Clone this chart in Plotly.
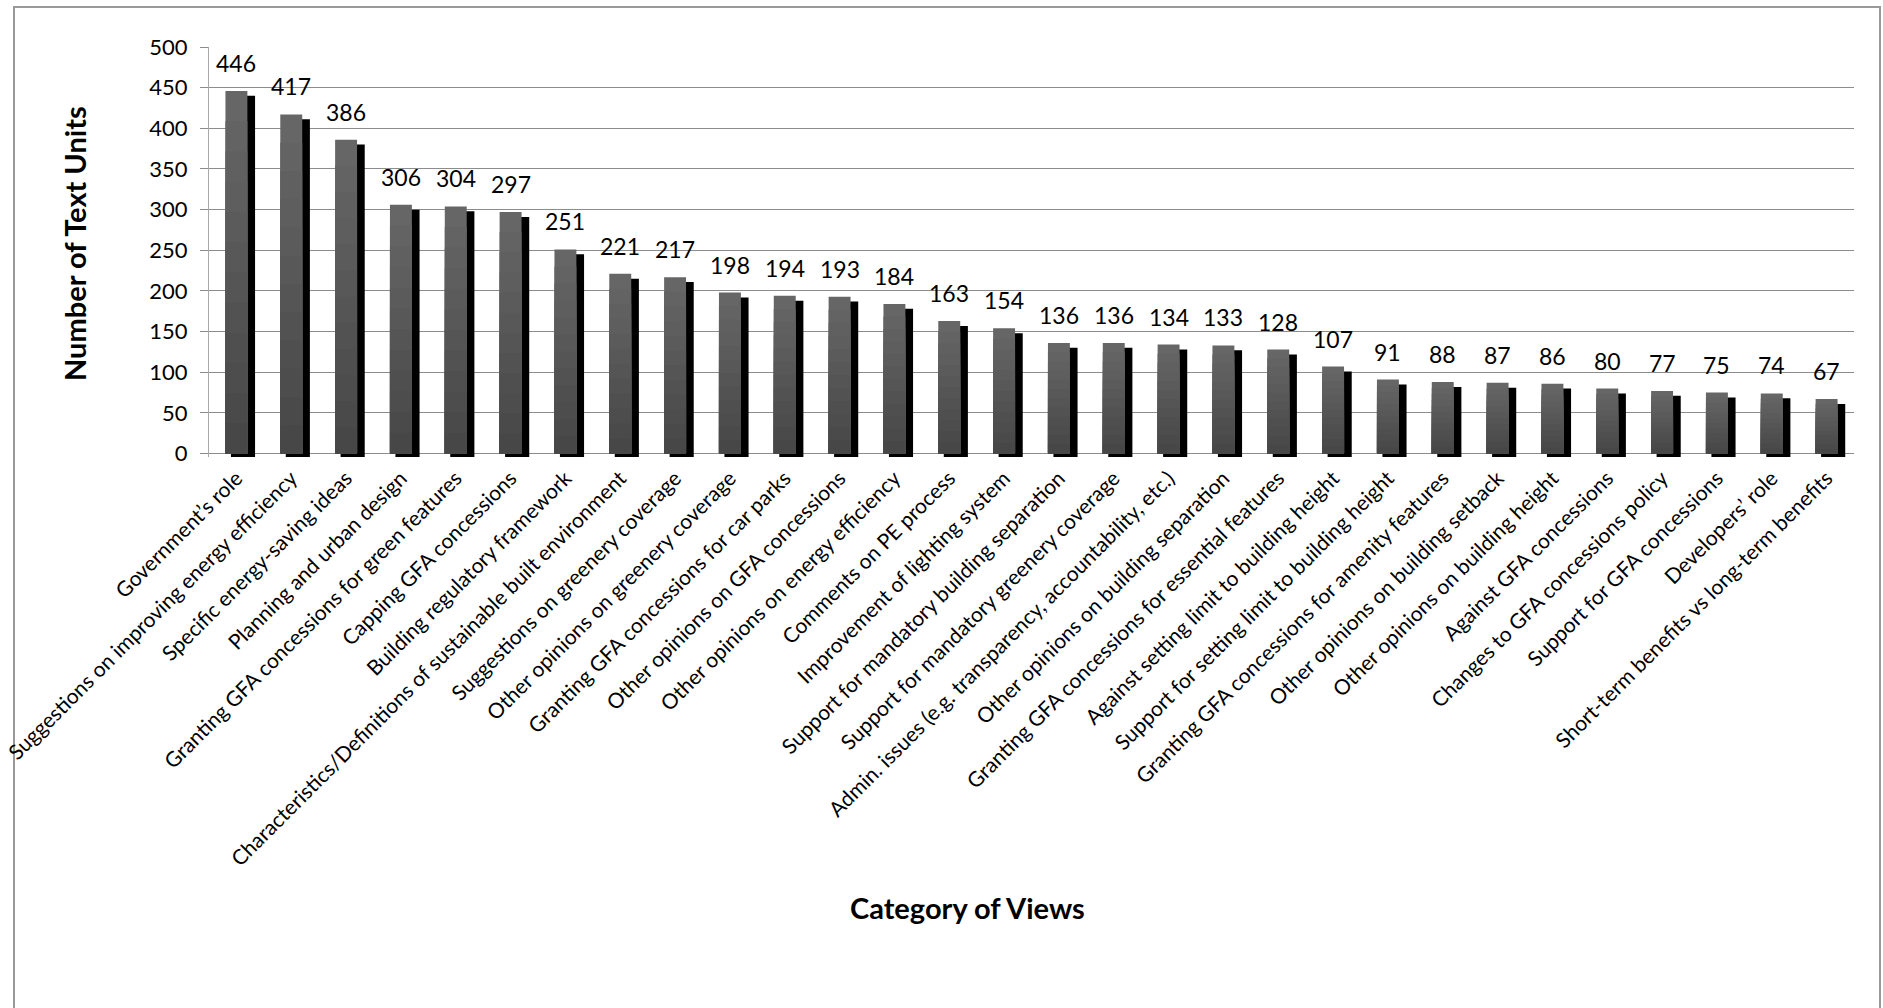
import plotly.graph_objects as go

# Categories of views and the number of text units coded under each
categories = [
    "Government’s role",
    "Suggestions on improving energy efficiency",
    "Specific energy-saving ideas",
    "Planning and urban design",
    "Granting GFA concessions for green features",
    "Capping GFA concessions",
    "Building regulatory framework",
    "Characteristics/Definitions of sustainable built environment",
    "Suggestions on greenery coverage",
    "Other opinions on greenery coverage",
    "Granting GFA concessions for car parks",
    "Other opinions on GFA concessions",
    "Other opinions on energy efficiency",
    "Comments on PE process",
    "Improvement of lighting system",
    "Support for mandatory building separation",
    "Support for mandatory greenery coverage",
    "Admin. issues (e.g. transparency, accountability, etc.)",
    "Other opinions on building separation",
    "Granting GFA concessions for essential features",
    "Against setting limit to building height",
    "Support for setting limit to building height",
    "Granting GFA concessions for amenity features",
    "Other opinions on building setback",
    "Other opinions on building height",
    "Against GFA concessions",
    "Changes to GFA concessions policy",
    "Support for GFA concessions",
    "Developers’ role",
    "Short-term benefits vs long-term benefits",
]
text_units = [446, 417, 386, 306, 304, 297, 251, 221, 217, 198,
              194, 193, 184, 163, 154, 136, 136, 134, 133, 128,
              107, 91, 88, 87, 86, 80, 77, 75, 74, 67]
y_ticks = [0, 50, 100, 150, 200, 250, 300, 350, 400, 450, 500]

# Figure geometry (pixels)
W, H = 1883, 1008
L, R, T, B = 209, 29, 47, 551
PW, PH = W - L - R, H - T - B
Y_MIN, Y_MAX = -4.2, 500

def px_x(p):
    return (p - L) / PW

def px_y(p):
    return (H - B - p) / PH

FONT = "Lato, Carlito, Calibri, sans-serif"
FRONT_TOP = 0x66      # grey level at the top of the front face
FRONT_BOTTOM = 0x47   # grey level at the bottom of the front face
BANDS = 12
SIDE = "#000000"
DEPTH = 6.0      # the side face top sits slightly lower than the front
SINK = 4.2       # the side face drops a little below the baseline

side_len = [v - DEPTH + SINK for v in text_units]

fig = go.Figure()

# dark side face of each pseudo-3D column
fig.add_trace(go.Bar(
    x=categories, y=side_len, base=[-SINK] * len(categories),
    width=0.44, offset=-0.10,
    marker=dict(color=SIDE, line=dict(width=0)),
    hoverinfo="skip", showlegend=False,
))

# front face, shaded top-to-bottom with overlaid bands
for k in range(BANDS):
    frac = (BANDS - k) / BANDS
    g = round(FRONT_TOP + (FRONT_BOTTOM - FRONT_TOP) * k / (BANDS - 1))
    fig.add_trace(go.Bar(
        x=categories, y=[v * frac for v in text_units],
        width=0.40, offset=-0.20,
        marker=dict(color=f"rgb({g},{g},{g})", line=dict(width=0)),
        hoverinfo="skip" if k else None,
        customdata=text_units,
        hovertemplate="%{x}: %{customdata}<extra></extra>",
        showlegend=False,
    ))

# value labels above columns
for c, v in zip(categories, text_units):
    fig.add_annotation(x=c, y=v, text=str(v), showarrow=False,
                       xanchor="center", yanchor="middle",
                       yshift=28, font=dict(family=FONT, size=23, color="#000"))

# axis titles
fig.add_annotation(xref="paper", yref="paper", x=px_x(74), y=px_y(244),
                   xanchor="center", yanchor="middle",
                   text="Number of Text Units", textangle=-90, showarrow=False,
                   font=dict(family=FONT, size=29, color="#000", weight="bold"))
fig.add_annotation(xref="paper", yref="paper", x=px_x(967), y=px_y(907),
                   xanchor="center", yanchor="middle",
                   text="Category of Views", showarrow=False,
                   font=dict(family=FONT, size=29, color="#000", weight="bold"))

# chart border
fig.add_shape(type="rect", xref="paper", yref="paper",
              x0=px_x(14), x1=px_x(1880), y0=px_y(1015), y1=px_y(7),
              line=dict(color="#999999", width=2), layer="below")

fig.update_layout(
    width=W, height=H,
    margin=dict(l=L, r=R, t=T, b=B, autoexpand=False),
    paper_bgcolor="white", plot_bgcolor="white",
    barmode="overlay",
    font=dict(family=FONT, color="#000"),
    xaxis=dict(
        type="category", tickangle=-45,
        tickfont=dict(family=FONT, size=21, color="#000"),
        showgrid=False, zeroline=False, showline=False, ticks="",
        ticklabelstandoff=4,
        automargin=False,
    ),
    yaxis=dict(
        range=[Y_MIN, Y_MAX], tickvals=y_ticks,
        tickfont=dict(family=FONT, size=22, color="#000"),
        showgrid=True, gridcolor="#8c8c8c", gridwidth=1,
        zeroline=True, zerolinecolor="#8c8c8c", zerolinewidth=1,
        showline=True, linecolor="#a8a8a8", linewidth=1,
        ticks="outside", ticklen=8, tickcolor="#8c8c8c",
        ticklabelstandoff=8,
        automargin=False,
    ),
)

fig.write_html("out.html")
